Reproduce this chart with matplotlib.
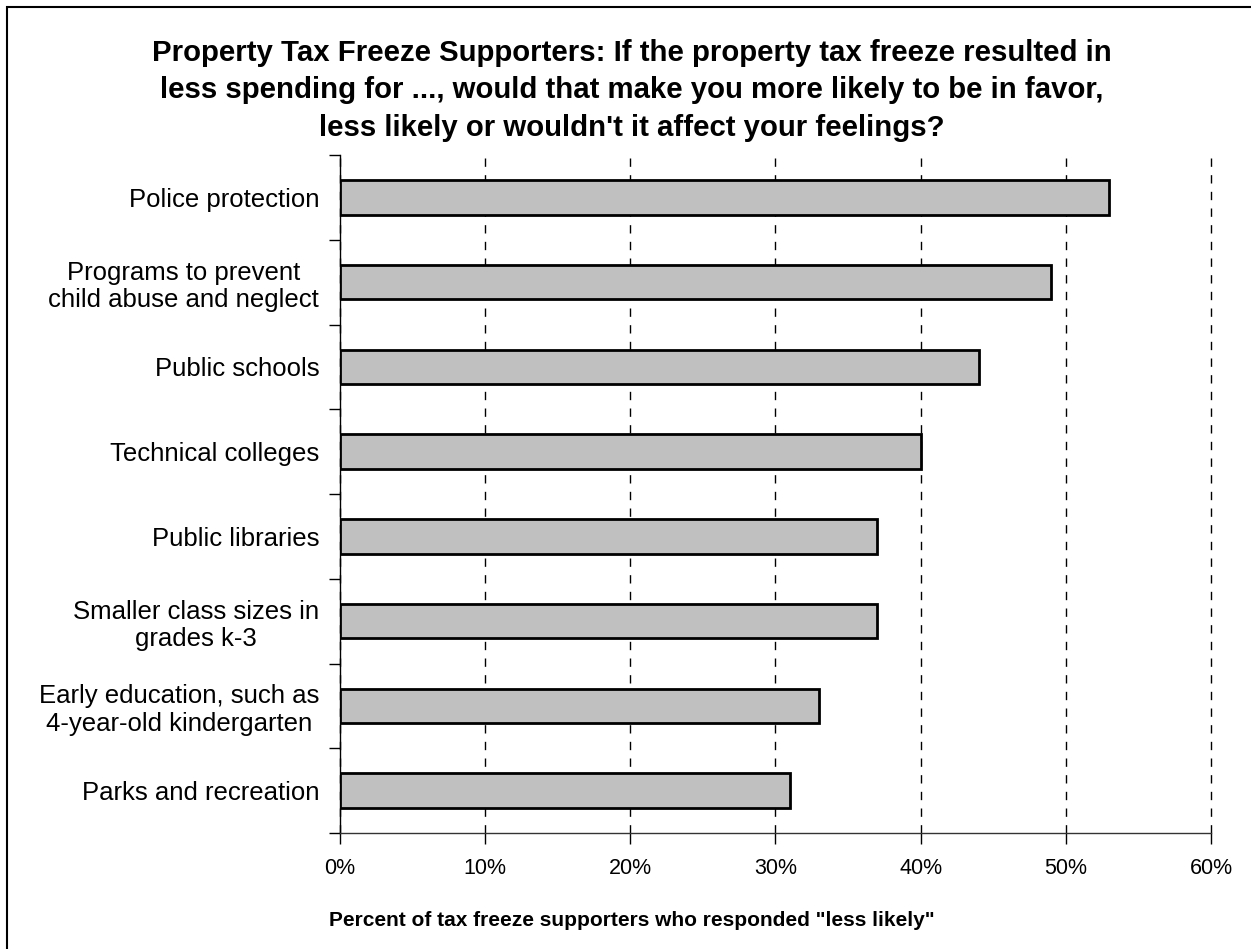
import matplotlib
matplotlib.use("Agg")
import matplotlib.pyplot as plt
from matplotlib.patches import Rectangle

plt.rcParams['font.family'] = ['Liberation Sans', 'DejaVu Sans']

categories = [
    "Police protection",
    "Programs to prevent\nchild abuse and neglect",
    "Public schools",
    "Technical colleges",
    "Public libraries",
    "Smaller class sizes in\ngrades k-3",
    "Early education, such as\n4-year-old kindergarten",
    "Parks and recreation",
]
values = [53, 49, 44, 40, 37, 37, 33, 31]
xticks = [0, 10, 20, 30, 40, 50, 60]
xticklabels = ["0%", "10%", "20%", "30%", "40%", "50%", "60%"]
title_lines = [
    "Property Tax Freeze Supporters: If the property tax freeze resulted in",
    "less spending for ..., would that make you more likely to be in favor,",
    "less likely or wouldn't it affect your feelings?",
]
xlabel = "Percent of tax freeze supporters who responded \"less likely\""

W, H = 1251, 949
fig = plt.figure(figsize=(W / 100, H / 100), dpi=100)
ax = fig.add_axes([340 / W, 1 - 833 / H, (1211 - 340) / W, (833 - 155) / H])

n = len(categories)
ypos = list(range(n))
ax.barh(ypos, values, height=0.41, color="#c0c0c0", edgecolor="black", linewidth=2, zorder=3)
ax.set_ylim(n - 0.5, -0.5)
ax.set_xlim(0, 60)

ax.set_yticks(ypos)
ax.set_yticklabels(categories, multialignment="center", fontsize=18.5)
ax.tick_params(axis="y", which="major", length=0, pad=15)
ax.set_yticks([i - 0.5 for i in range(n + 1)], minor=True)
ax.tick_params(axis="y", which="minor", length=8, width=1, direction="out")

ax.set_xticks(xticks)
ax.set_xticklabels(xticklabels, fontsize=15.5)
ax.tick_params(axis="x", length=8, width=1, direction="out", pad=10)

ax.grid(axis="x", linestyle=(0, (6, 6)), color="black", linewidth=1, zorder=0)
for gl in ax.get_xgridlines():
    gl.set_clip_on(False)
for s in ["top", "right"]:
    ax.spines[s].set_visible(False)
ax.spines["left"].set_linewidth(1)
ax.spines["bottom"].set_linewidth(1)
ax.spines["bottom"].set_color("#333333")

for line, yb in zip(title_lines, [61, 98, 136]):
    fig.text(632 / W, 1 - yb / H, line, ha="center", va="baseline",
             fontsize=21.2, fontweight="bold")
fig.text(632 / W, 1 - 926 / H, xlabel, ha="center", va="baseline",
         fontsize=15, fontweight="bold")

fig.patches.append(Rectangle((7 / W, -0.1), 1.2, 1 - 7 / H + 0.1, transform=fig.transFigure,
                             fill=False, edgecolor="black", linewidth=1.5))

fig.savefig("out.png", dpi=100)
